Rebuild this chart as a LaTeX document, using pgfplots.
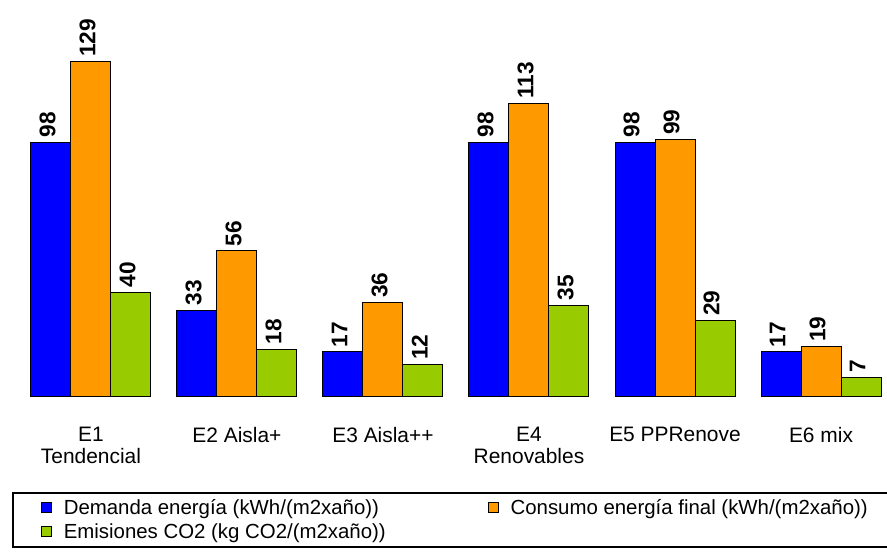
\documentclass[border=0pt]{standalone}
\usepackage{fontspec}
\setmainfont{Liberation Sans}
\usepackage{pgfplots}
\pgfplotsset{compat=1.18}
\definecolor{cblue}{RGB}{0,0,255}
\definecolor{corange}{RGB}{255,153,0}
\definecolor{cgreen}{RGB}{153,204,0}
\begin{document}
\begin{tikzpicture}
\path[use as bounding box] (0,0) rectangle (665.25pt,413.25pt);
\begin{axis}[
  at={(0pt,116.25pt)}, anchor=south west,
  scale only axis, width=665.25pt, height=297pt,
  ybar=0pt, bar width=30pt,
  xmin=-0.623, xmax=5.452, ymin=0, ymax=152.9,
  xtick={0,...,5},
  xticklabels={{E1\\Tendencial},{E2 Aisla+},{E3 Aisla++},{E4\\Renovables},{E5 PPRenove},{E6 mix}},
  xticklabel style={align=center, font=\fontsize{15.7}{16.5}\selectfont, yshift=-20pt},
  ytick=\empty, major tick length=0pt,
  axis line style={draw=none},
  clip=false,
  /pgf/number format/assume math mode=true,
  nodes near coords,
  nodes near coords style={xshift=-2.5pt, rotate=90, anchor=west, font=\fontsize{17}{17}\selectfont\bfseries},
  every axis plot/.append style={draw=black, line width=0.75pt},
  legend columns=2,
  legend style={at={(0.01353,-0.2424)}, anchor=north west, draw=black, line width=1.5pt,
     inner xsep=21pt, inner ysep=5pt, font=\fontsize{15.3}{15.3}\selectfont,
     nodes={inner sep=0pt, anchor=base west}, row sep=5pt,
     /tikz/every odd column/.append style={column sep=9pt},
     /tikz/every even column/.append style={column sep=0pt}},
  legend image code/.code={\draw[#1, draw=black, line width=0.6pt] (0pt,1.5pt) rectangle (7.5pt,9pt);},
]
\addplot[fill=cblue] coordinates {(0,98) (1,33) (2,17) (3,98) (4,98) (5,17)};
\addlegendentry{\makebox[318pt][l]{Demanda energía (kWh/(m2xaño))}}
\addplot[fill=corange] coordinates {(0,129) (1,56) (2,36) (3,113) (4,99) (5,19)};
\addlegendentry{\makebox[318pt][l]{Consumo energía final (kWh/(m2xaño))}}
\addplot[fill=cgreen] coordinates {(0,40) (1,18) (2,12) (3,35) (4,29) (5,7)};
\addlegendentry{\makebox[318pt][l]{\rule[-12pt]{0pt}{0pt}Emisiones CO2 (kg CO2/(m2xaño))}}
\end{axis}
\end{tikzpicture}
\end{document}
